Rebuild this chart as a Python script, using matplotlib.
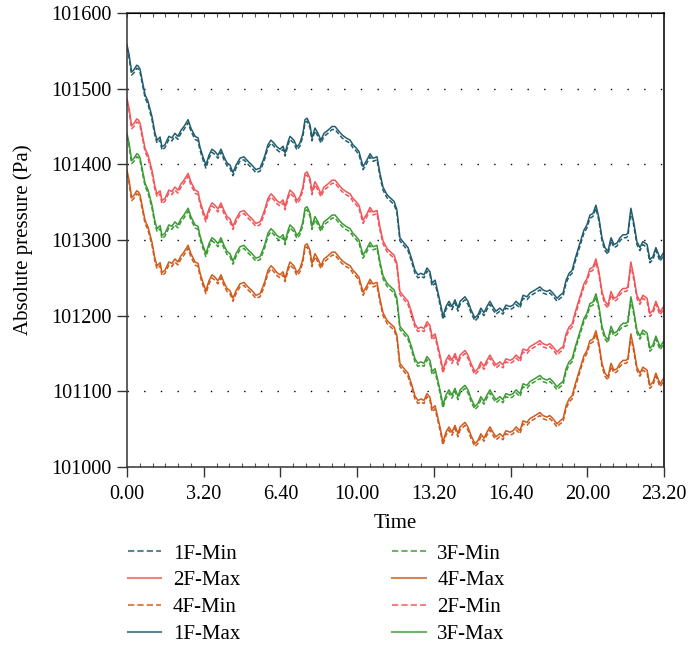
import numpy as np
import matplotlib.pyplot as plt

# time in hours
time_h = [0.00, 0.09, 0.20, 0.30, 0.42, 0.48, 0.56, 0.65, 0.78, 0.91,
          1.08, 1.21, 1.30, 1.43, 1.51, 1.64, 1.81, 1.94, 2.07, 2.20,
          2.33, 2.46, 2.64, 2.76, 2.94, 3.07, 3.15, 3.28, 3.41, 3.54,
          3.67, 3.80, 3.93, 4.06, 4.19, 4.32, 4.45, 4.58, 4.71, 4.88,
          5.05, 5.23, 5.40, 5.57, 5.75, 5.88, 5.96, 6.09, 6.22, 6.35,
          6.48, 6.61, 6.74, 6.83, 6.96, 7.04, 7.21, 7.34, 7.47, 7.60,
          7.69, 7.78, 7.91, 7.99, 8.12, 8.25, 8.38, 8.51, 8.68, 8.86,
          8.99, 9.12, 9.29, 9.46, 9.64, 9.76, 9.89, 10.02, 10.20, 10.37,
          10.50, 10.63, 10.80, 10.93, 11.06, 11.23, 11.36, 11.54, 11.66, 11.79,
          11.97, 12.14, 12.31, 12.44, 12.57, 12.70, 12.83, 12.96, 13.09, 13.18,
          13.31, 13.44, 13.57, 13.65, 13.78, 13.91, 14.04, 14.17, 14.30, 14.39,
          14.60, 14.73, 14.86, 15.03, 15.16, 15.29, 15.42, 15.55, 15.68, 15.81,
          15.94, 16.11, 16.24, 16.37, 16.55, 16.68, 16.81, 16.98, 17.11, 17.28,
          17.41, 17.63, 17.84, 17.97, 18.14, 18.27, 18.40, 18.58, 18.71, 18.84,
          18.97, 19.10, 19.23, 19.35, 19.48, 19.61, 19.74, 19.87, 20.00, 20.13,
          20.26, 20.39, 20.52, 20.65, 20.78, 20.91, 21.04, 21.17, 21.30, 21.43,
          21.56, 21.64, 21.77, 21.90, 22.03, 22.16, 22.29, 22.47, 22.59, 22.72,
          22.85, 23.03, 23.20]

# 1F maximum pressure (Pa)
p_1f_max = [101558, 101545, 101522, 101525, 101531, 101530, 101526, 101512, 101492, 101483,
            101463, 101441, 101432, 101436, 101423, 101426, 101437, 101435, 101441, 101437,
            101445, 101450, 101459, 101448, 101437, 101435, 101423, 101410, 101399, 101412,
            101420, 101417, 101412, 101420, 101410, 101402, 101399, 101389, 101399, 101408,
            101410, 101404, 101399, 101393, 101395, 101405, 101412, 101426, 101432, 101428,
            101423, 101420, 101424, 101415, 101430, 101437, 101432, 101423, 101428, 101441,
            101459, 101461, 101452, 101435, 101448, 101441, 101432, 101441, 101445, 101450,
            101450, 101445, 101439, 101435, 101432, 101426, 101422, 101417, 101397, 101406,
            101414, 101408, 101410, 101388, 101370, 101360, 101356, 101351, 101340, 101303,
            101296, 101290, 101274, 101260, 101254, 101256, 101254, 101263, 101258, 101243,
            101247, 101230, 101212, 101199, 101212, 101219, 101212, 101221, 101210, 101219,
            101225, 101219, 101208, 101197, 101201, 101210, 101204, 101212, 101219, 101212,
            101206, 101210, 101206, 101214, 101212, 101214, 101219, 101214, 101227, 101225,
            101230, 101234, 101238, 101234, 101232, 101234, 101230, 101223, 101227, 101230,
            101247, 101256, 101260, 101274, 101287, 101300, 101313, 101320, 101333, 101335,
            101346, 101329, 101303, 101290, 101285, 101303, 101294, 101296, 101303, 101307,
            101307, 101309, 101342, 101322, 101298, 101290, 101298, 101294, 101274, 101278,
            101290, 101276, 101284]

# each floor sits a nearly constant step below 1F (Pa), min curves a little under max
floors = ["1F", "2F", "3F", "4F"]
floor_step = [0, -71, -117, -166]
min_gap = [-4, -4, -4, -4]
colors = ["#235e6f", "#f2555a", "#3d9b35", "#cf5b1c"]

xtick_labels = ["0.00", "3.20", "6.40", "10.00", "13.20", "16.40", "20.00", "23.20"]
ytick_vals = [101000, 101100, 101200, 101300, 101400, 101500, 101600]

plt.rcParams['font.family'] = ['Liberation Serif', 'DejaVu Serif']
plt.rcParams['font.size'] = 14.5

fig = plt.figure(figsize=(6.88, 6.5), dpi=100)
ax = fig.add_axes([0.1846, 0.2815, 0.7805, 0.6985])

t = np.array(time_h)
base = np.array(p_1f_max)
lines = {}
for name, step, gap, c in zip(floors, floor_step, min_gap, colors):
    lmax, = ax.plot(t, base + step, color=c, lw=1.1, label=name + "-Max")
    lmin, = ax.plot(t, base + step + gap, color=c, lw=1.1, ls=(0, (3, 1.5)), label=name + "-Min")
    lines[name + "-Max"] = lmax
    lines[name + "-Min"] = lmin

ax.set_xlim(0, 23.2)
ax.set_ylim(101000, 101600)
ax.set_xticks(np.linspace(0, 23.2, 8))
ax.set_xticklabels(xtick_labels)
ax.set_xticks(np.linspace(0, 23.2, 43), minor=True)
ax.set_yticks(ytick_vals)
ax.set_yticklabels([str(v) for v in ytick_vals])

for y in ytick_vals[1:-1]:
    ax.axhline(y, color="black", lw=1.0, ls=(0, (1, 11)), zorder=0)

ax.tick_params(axis="both", which="major", direction="out", length=7, width=1, color="#333333")
ax.tick_params(axis="x", which="minor", direction="in", length=3, width=0.8, color="#555555")
ax.tick_params(axis="x", which="major", labelsize=14.5, pad=6)
ax.tick_params(axis="y", which="major", labelsize=14.5, pad=4)

top = ax.secondary_xaxis("top")
top.set_xticks(np.linspace(0, 23.2, 43))
top.tick_params(direction="in", length=3, width=0.8, color="#555555", labeltop=False)
top.spines["top"].set_color("#444444")
top.spines["top"].set_linewidth(1.2)

for s in ["left", "bottom"]:
    ax.spines[s].set_color("#333333")
    ax.spines[s].set_linewidth(1.1)
ax.spines["right"].set_color("#222222")
ax.spines["right"].set_linewidth(1.3)

ax.set_xlabel("Time", fontsize=15, labelpad=7)
ax.set_ylabel("Absolute pressure (Pa)", fontsize=15, labelpad=13)

order = ["1F-Min", "2F-Max", "4F-Min", "1F-Max", "3F-Min", "4F-Max", "2F-Min", "3F-Max"]
leg = fig.legend([lines[k] for k in order], order, ncol=2, frameon=False,
                 loc="upper left", bbox_to_anchor=(0.159, 0.192),
                 handlelength=1.6, handletextpad=0.55, columnspacing=7.3,
                 labelspacing=0.35, fontsize=15)
for h in leg.get_lines():
    h.set_alpha(0.75)
    h.set_linewidth(1.5)

fig.savefig("out.png", dpi=100)
